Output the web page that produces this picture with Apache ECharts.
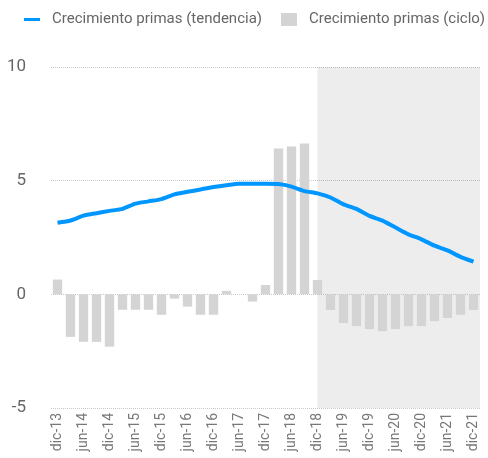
<!DOCTYPE html>
<html>
<head>
<meta charset="utf-8">
<script src="https://cdn.jsdelivr.net/npm/echarts@6/dist/echarts.min.js"></script>
<style>html,body{margin:0;padding:0;background:#fff}#c{width:488px;height:458px}</style>
</head>
<body>
<div id="c"></div>
<script>
const categories = ['dic-13','mar-14','jun-14','sep-14','dic-14','mar-15','jun-15','sep-15','dic-15','mar-16','jun-16','sep-16','dic-16','mar-17','jun-17','sep-17','dic-17','mar-18','jun-18','sep-18','dic-18','mar-19','jun-19','sep-19','dic-19','mar-20','jun-20','sep-20','dic-20','mar-21','jun-21','sep-21','dic-21'];
const tendencia = [3.15, 3.25, 3.46, 3.57, 3.67, 3.76, 3.99, 4.09, 4.19, 4.4, 4.51, 4.61, 4.72, 4.8, 4.86, 4.86, 4.86, 4.85, 4.74, 4.54, 4.44, 4.26, 3.96, 3.76, 3.45, 3.24, 2.94, 2.64, 2.42, 2.14, 1.93, 1.65, 1.44];
const ciclo = [0.65, -1.87, -2.09, -2.09, -2.3, -0.68, -0.68, -0.68, -0.9, -0.19, -0.54, -0.9, -0.9, 0.15, 0, -0.32, 0.41, 6.41, 6.5, 6.63, 0.63, -0.69, -1.26, -1.4, -1.53, -1.62, -1.53, -1.4, -1.4, -1.18, -1.04, -0.9, -0.69];
const shadeStart = 20.5; // centre of 'dic-18' on a 0..33 position scale
const shadeEnd = 33;
const yTicks = {min: -5, max: 10, interval: 5};

const chart = echarts.init(document.getElementById('c'), null, {renderer: 'canvas'});
const font = 'Roboto, "DejaVu Sans", sans-serif';
chart.setOption({
  animation: false,
  textStyle: {fontFamily: font},
  legend: {
    data: [
      {name: 'Crecimiento primas (tendencia)', icon: 'path://M0,0L16,0L16,3L0,3Z'},
      {name: 'Crecimiento primas (ciclo)', icon: 'rect'}
    ],
    left: 24, top: 12, width: 464, padding: 0,
    itemWidth: 16, itemHeight: 13, itemGap: 19,
    textStyle: {fontSize: 15, color: '#666', fontFamily: font, padding: [0, 0, 0, 7]}
  },
  grid: {left: 51, right: 8, top: 67, bottom: 50, containLabel: false},
  xAxis: [{
    type: 'category',
    data: categories,
    boundaryGap: true,
    axisLine: {show: false},
    axisTick: {show: false},
    axisLabel: {rotate: 90, interval: 1, fontSize: 14, color: '#777', margin: 5, fontFamily: font}
  }, {
    type: 'value', min: 0, max: shadeEnd, show: false
  }],
  yAxis: {
    type: 'value', min: yTicks.min, max: yTicks.max, interval: yTicks.interval,
    axisLine: {show: false}, axisTick: {show: false},
    axisLabel: {fontSize: 17, color: '#666', margin: 25, fontFamily: font},
    splitLine: {show: true, lineStyle: {color: '#c8c8c8', type: 'dotted', width: 1}}
  },
  series: [{
    name: 'shade', type: 'line', xAxisIndex: 1, data: [], z: 1, silent: true,
    markArea: {silent: true, itemStyle: {color: 'rgba(0,0,0,0.07)'}, data: [[{xAxis: shadeStart}, {xAxis: shadeEnd}]]}
  }, {
    name: 'Crecimiento primas (ciclo)', type: 'bar', data: ciclo, z: 2,
    barWidth: '72%',
    itemStyle: {color: '#d4d4d4'}
  }, {
    name: 'Crecimiento primas (tendencia)', type: 'line', data: tendencia, z: 3,
    symbol: 'none', smooth: 0.2,
    lineStyle: {color: '#0096ff', width: 4},
    itemStyle: {color: '#0096ff'}
  }]
});
</script>
</body>
</html>
